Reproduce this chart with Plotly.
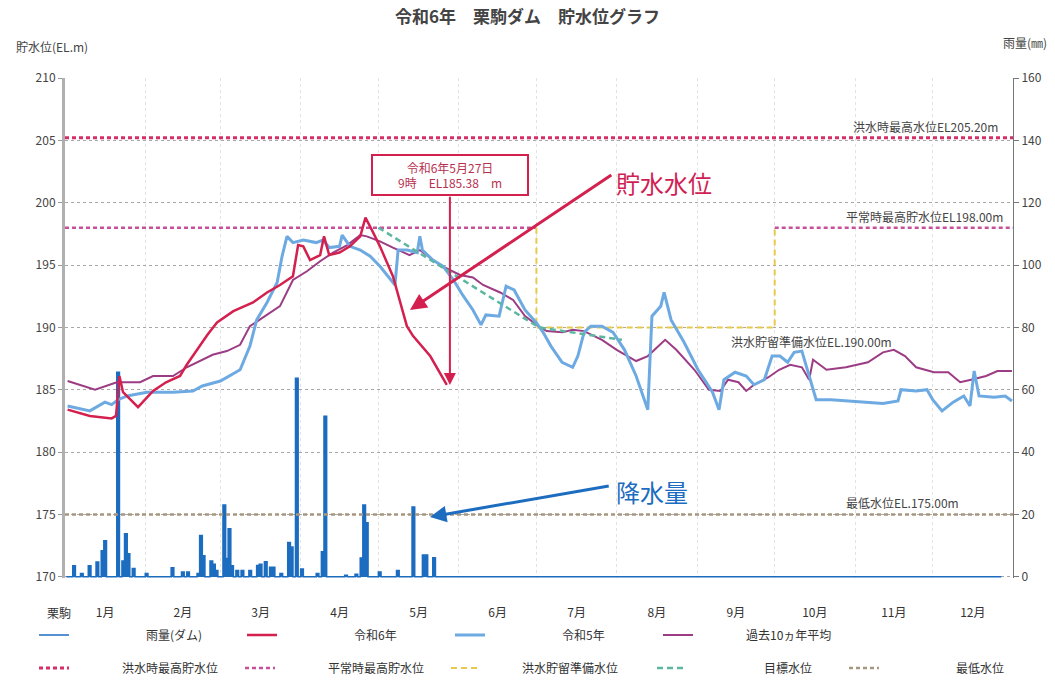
import plotly.graph_objects as go

# ---------------- data ----------------
months = ["1月", "2月", "3月", "4月", "5月", "6月", "7月", "8月", "9月", "10月", "11月", "12月"]
month_start = [0, 31, 60, 91, 121, 152, 182, 213, 244, 274, 305, 335, 366]  # 2024 (leap year), days since Jan 1

# 令和6年 storage level (day since Jan 1, EL.m)
r6_day = [1, 9.6, 18, 19.7, 21, 22.4, 28.2, 34, 39, 44.4, 47, 51, 55, 58.7, 65, 72.6, 78, 83, 88, 90, 92,
          94.6, 98.5, 100, 102, 106, 110, 114, 116, 118.5, 121.6, 126.6, 132, 134.4, 141, 147.4]
r6_el = [183.4, 182.9, 182.7, 182.9, 186.1, 184.8, 183.6, 184.9, 185.6, 186.1, 187.0, 188.2, 189.4, 190.4,
         191.3, 192.0, 192.8, 193.4, 194.1, 196.6, 196.5, 195.4, 195.8, 197.3, 195.8, 196.0, 196.5, 197.3,
         198.8, 197.8, 196.5, 194.1, 190.1, 189.3, 187.7, 185.38]

# 令和5年 storage level
r5_day = [1, 9.6, 15.4, 18, 20.5, 24, 31.6, 41.7, 49.4, 53, 60, 67.6, 71.4, 74, 78, 81.9, 83.8, 85.7, 88, 92,
          97, 99.6, 102, 106, 107, 110, 114, 117.8, 121.6, 127.4, 128.6, 132, 136, 137, 138, 142, 146, 150,
          153.5, 157.5, 160.6, 162.5, 167.6, 170.3, 173.4, 177.6, 181.9, 184.6, 187.6, 191.9, 196, 198, 200.4,
          203, 207.3, 211.6, 216, 220.5, 225, 226.6, 230, 231.3, 234, 239, 244.4, 250, 252.5, 254.4, 258.7,
          263, 266, 270, 273, 276, 279, 281.5, 284.5, 287.3, 290, 295.8, 304, 315.8, 321.6, 322.8, 328.6,
          332.8, 335, 338.6, 342.9, 347, 349.4, 351, 352.9, 358.7, 363, 365.6]
r5_el = [183.7, 183.3, 184.0, 183.8, 184.2, 184.5, 184.8, 184.8, 184.9, 185.3, 185.7, 186.6, 188.5, 190.6,
         192.0, 193.6, 195.7, 197.3, 196.8, 197.0, 196.8, 197.0, 196.4, 196.5, 197.4, 196.5, 196.2, 195.7,
         194.9, 193.4, 196.2, 196.2, 196.0, 197.3, 196.2, 195.4, 194.9, 193.8, 192.6, 191.4, 190.2, 191.0,
         190.9, 193.3, 193.0, 191.4, 190.4, 189.6, 188.5, 187.2, 186.8, 187.7, 189.6, 190.1, 190.1, 189.6,
         188.2, 186.1, 183.4, 190.9, 191.7, 192.8, 190.6, 188.8, 186.6, 184.8, 183.4, 185.8, 186.4, 186.1,
         185.4, 185.8, 187.7, 187.7, 187.2, 188.0, 188.1, 186.1, 184.2, 184.2, 184.1, 183.9, 184.1, 185.0,
         184.9, 185.0, 184.2, 183.3, 184.0, 184.5, 183.7, 186.5, 184.5, 184.4, 184.5, 184.1]

# 過去10ヵ年平均
avg_day = [1, 11.6, 20, 29, 34, 41.7, 47, 57, 62.5, 67.6, 71.4, 78, 83, 88, 93.4, 98.5, 103.5, 109, 114, 116.5,
           121.6, 126.6, 133, 137, 144.8, 152.5, 157.5, 161.4, 168, 173, 177.6, 183.4, 186, 192, 196, 200.4,
           207.3, 213, 220.5, 225, 231.7, 236, 243, 248.6, 253, 256, 260, 263, 266, 271.6, 275.7, 280, 284.5,
           287.3, 288.8, 294, 301.5, 310, 315.8, 320, 324.3, 328.6, 335.5, 341, 345.6, 349.8, 355.6, 360, 365.6]
avg_el = [185.7, 185.0, 185.6, 185.6, 186.1, 186.1, 186.8, 187.8, 188.1, 188.6, 190.1, 191.0, 191.7, 193.8,
          194.5, 195.3, 196.0, 196.6, 197.4, 197.3, 196.9, 196.4, 195.8, 196.2, 195.0, 194.2, 194.0, 193.4,
          192.8, 192.2, 190.9, 190.0, 189.7, 189.6, 189.8, 189.7, 189.0, 188.2, 187.3, 187.7, 189.0, 188.2,
          186.6, 185.0, 184.9, 185.8, 185.6, 184.9, 185.4, 186.0, 186.6, 187.0, 186.8, 185.8, 187.4, 186.6,
          186.8, 187.2, 188.0, 188.2, 187.7, 186.8, 186.4, 186.4, 185.6, 185.8, 186.1, 186.5, 186.5]

# reference levels
flood_max_day = [0, 366]
flood_max_el = [205.2, 205.2]
normal_max_day = [0, 182, None, 274, 366]
normal_max_el = [198.0, 198.0, None, 198.0, 198.0]
flood_prep_day = [182, 182, 274, 274]
flood_prep_el = [198.0, 190.0, 190.0, 198.0]
target_day = [121, 183, 215]
target_el = [198.0, 190.0, 189.0]
min_day = [0, 366]
min_el = [175.0, 175.0]

# daily rainfall (dam), mm; days not listed are 0 up to rain_last_day
rain_day = [3, 6, 9, 12, 14, 15, 20, 22, 23, 24, 26, 31, 41, 45, 47, 51, 52, 53, 56, 57, 58, 61, 62, 63, 64,
            66, 68, 71, 74, 75, 77, 79, 80, 83, 86, 87, 89, 91, 97, 99, 100, 108, 112, 114, 115, 116, 121, 128,
            134, 138, 139, 142]
rain_mm = [3.5, 1.0, 3.5, 4.7, 8.3, 11.5, 65.6, 5.0, 13.8, 7.4, 2.6, 1.0, 2.9, 1.5, 1.5, 1.0, 13.2, 6.7, 5.0,
           4.0, 2.0, 23.0, 5.8, 15.4, 3.5, 2.0, 2.0, 2.0, 3.6, 4.0, 4.8, 3.0, 3.0, 1.0, 11.0, 9.5, 63.7, 2.5,
           1.0, 8.0, 51.5, 0.5, 0.8, 6.0, 23.0, 17.3, 1.5, 2.0, 22.4, 7.0, 7.0, 6.1]
rain_last_day = 361

latest_label = "令和6年5月27日<br>9時　EL185.38　m"

# ---------------- build ----------------
rain_daily = [0.0] * (rain_last_day + 1)
for d, v in zip(rain_day, rain_mm):
    rain_daily[d] = v
rain_x = [d + 0.5 for d in range(rain_last_day + 1)]
month_mid = [(month_start[i] + month_start[i + 1]) / 2 for i in range(12)]

FONT = "Noto Sans CJK JP"
C_RAIN = "#1c6cc0"
C_R6 = "#d3204e"
C_R5 = "#6eaae2"
C_AVG = "#9c3c84"
SP = "\u3000"  # ideographic space used to place legend labels like the original


def lg(name, n):
    return SP * n + name


fig = go.Figure()

# rainfall: filled daily bars plus a step outline (which also gives the line legend symbol)
fig.add_trace(go.Bar(x=rain_x, y=rain_daily, width=1.0, yaxis="y", marker=dict(color=C_RAIN, line_width=0),
                     showlegend=False, hoverinfo="skip"))
fig.add_trace(go.Scatter(
    x=rain_x, y=rain_daily, name=lg("雨量(ダム)", 6), yaxis="y", mode="lines",
    line=dict(color=C_RAIN, width=1.6, shape="hvh"),
    legend="legend", legendrank=1))

fig.add_trace(go.Scatter(x=min_day, y=min_el, yaxis="y2", mode="lines", name=lg("最低水位", 6),
                         line=dict(color="#a8977f", width=2.5, dash="4px,3px"),
                         legend="legend3", legendrank=5))
fig.add_trace(go.Scatter(x=flood_max_day, y=flood_max_el, yaxis="y2", mode="lines",
                         name=lg("洪水時最高貯水位", 4),
                         line=dict(color="#d62f66", width=3, dash="4px,3px"),
                         legend="legend2", legendrank=1))
fig.add_trace(go.Scatter(x=normal_max_day, y=normal_max_el, yaxis="y2", mode="lines",
                         name=lg("平常時最高貯水位", 4),
                         line=dict(color="#c8509a", width=2.5, dash="4px,3px"), connectgaps=False,
                         legend="legend2", legendrank=2))
fig.add_trace(go.Scatter(x=flood_prep_day, y=flood_prep_el, yaxis="y2", mode="lines",
                         name=lg("洪水貯留準備水位", 3),
                         line=dict(color="#e7c94c", width=2, dash="6px,4px"),
                         legend="legend2", legendrank=3))
fig.add_trace(go.Scatter(x=avg_day, y=avg_el, yaxis="y2", mode="lines", name=lg("過去10ヵ年平均", 4),
                         line=dict(color=C_AVG, width=2), legend="legend", legendrank=4))
fig.add_trace(go.Scatter(x=r5_day, y=r5_el, yaxis="y2", mode="lines", name=lg("令和5年", 6),
                         line=dict(color=C_R5, width=3), legend="legend", legendrank=3))
fig.add_trace(go.Scatter(x=target_day, y=target_el, yaxis="y2", mode="lines", name=lg("目標水位", 6),
                         line=dict(color="#5cb6a0", width=2.5, dash="6px,4px"),
                         legend="legend2", legendrank=4))
fig.add_trace(go.Scatter(x=r6_day, y=r6_el, yaxis="y2", mode="lines", name=lg("令和6年", 6),
                         line=dict(color=C_R6, width=2.5), legend="legend", legendrank=2))

fig_w, fig_h = 1055, 681
ml, mr, mt, mb = 65, 42, 78, 103
pw, ph = fig_w - ml - mr, fig_h - mt - mb


def px(xp):
    return (xp - ml) / pw


def py(yp):
    return (fig_h - mb - yp) / ph


ann = []
lab_font = dict(family=FONT, size=12, color="#444")
ann.append(dict(x=361, y=205.2, xref="x", yref="y2", text="洪水時最高水位EL205.20m", showarrow=False,
                xanchor="right", yanchor="bottom", yshift=1, font=lab_font))
ann.append(dict(x=363, y=198.0, xref="x", yref="y2", text="平常時最高貯水位EL198.00m", showarrow=False,
                xanchor="right", yanchor="bottom", yshift=1, font=lab_font))
ann.append(dict(x=320, y=190.0, xref="x", yref="y2", text="洪水貯留準備水位EL.190.00m", showarrow=False,
                xanchor="right", yanchor="top", yshift=-4, font=lab_font))
ann.append(dict(x=346, y=175.0, xref="x", yref="y2", text="最低水位EL.175.00m", showarrow=False,
                xanchor="right", yanchor="bottom", yshift=1, font=lab_font))

# callout for latest value
ann.append(dict(x=148.6, y=202.2, xref="x", yref="y2", text=latest_label, showarrow=False,
                font=dict(family=FONT, size=12, color="#b8304f"), bordercolor=C_R6, borderwidth=2,
                borderpad=2, bgcolor="white", align="center", width=150, height=34))
ann.append(dict(x=r6_day[-1] + 1.2, y=r6_el[-1], xref="x", yref="y2", ax=r6_day[-1] + 1.2, ay=200.6,
                axref="x", ayref="y2", text="", showarrow=True, arrowhead=2, arrowsize=1.2,
                arrowwidth=2, arrowcolor=C_R6, standoff=0))

# big labels with arrows
ann.append(dict(x=133.2, y=191.4, xref="x", yref="y2", ax=211.5, ay=202.3, axref="x", ayref="y2",
                text="", showarrow=True, arrowhead=2, arrowsize=1.1, arrowwidth=3, arrowcolor=C_R6))
ann.append(dict(x=212, y=201.6, xref="x", yref="y2", text="貯水水位", showarrow=False, xanchor="left",
                yanchor="middle", font=dict(family=FONT, size=24, color="#d01f55")))
ann.append(dict(x=140.9, y=174.8, xref="x", yref="y2", ax=210.5, ay=177.3, axref="x", ayref="y2",
                text="", showarrow=True, arrowhead=2, arrowsize=1.1, arrowwidth=3, arrowcolor=C_RAIN))
ann.append(dict(x=212, y=176.8, xref="x", yref="y2", text="降水量", showarrow=False, xanchor="left",
                yanchor="middle", font=dict(family=FONT, size=24, color=C_RAIN)))

# axis titles and x label
ann.append(dict(x=px(52), y=py(47), xref="paper", yref="paper", text="貯水位(EL.m)", showarrow=False,
                xanchor="center", yanchor="middle", font=dict(family=FONT, size=12, color="#444")))
ann.append(dict(x=px(1025), y=py(43), xref="paper", yref="paper", text="雨量(㎜)", showarrow=False,
                xanchor="center", yanchor="middle", font=dict(family=FONT, size=12, color="#444")))
ann.append(dict(x=px(59), y=py(612), xref="paper", yref="paper", text="栗駒", showarrow=False,
                xanchor="center", yanchor="middle", font=dict(family=FONT, size=12, color="#333")))

leg_font = dict(family=FONT, size=12, color="#333")
fig.update_layout(
    width=fig_w, height=fig_h,
    margin=dict(l=ml, r=mr, t=mt, b=mb, autoexpand=False),
    paper_bgcolor="white", plot_bgcolor="white",
    font=dict(family=FONT, size=12, color="#333"),
    bargap=0, barmode="overlay",
    title=dict(text="<b>令和6年　栗駒ダム　貯水位グラフ</b>", x=0.5, xanchor="center",
               y=1 - 17 / fig_h, yanchor="middle", yref="container",
               font=dict(family=FONT, size=17, color="#444")),
    xaxis=dict(range=[0, 366], tickmode="array", tickvals=month_mid, ticktext=months, showgrid=False,
               ticks="", zeroline=False, showline=False, ticklabelstandoff=26,
               tickfont=dict(family=FONT, size=12, color="#333"),
               minor=dict(tickvals=month_start, showgrid=True, gridcolor="#e2e2e2", griddash="dot",
                          gridwidth=1, ticks="")),
    yaxis=dict(side="right", range=[-0.4, 160], tickmode="array", tickvals=list(range(0, 161, 20)),
               showgrid=True, gridcolor="#a8a8a8", griddash="dot", gridwidth=1, zeroline=False,
               showline=True, linecolor="#777", linewidth=1, ticks="outside", ticklen=5, tickcolor="#777",
               tickfont=dict(family=FONT, size=12, color="#444")),
    yaxis2=dict(overlaying="y", side="left", range=[169.9, 210], tickmode="array",
                tickvals=list(range(170, 211, 5)), showgrid=False, zeroline=False, showline=True,
                linecolor="#b0b0b0", linewidth=3, ticks="outside", ticklen=4, tickcolor="#999",
                tickfont=dict(family=FONT, size=12, color="#444")),
    legend=dict(orientation="h", x=px(34), xanchor="left", y=py(635), yanchor="middle",
                entrywidth=163, entrywidthmode="pixels", font=leg_font,
                bgcolor="rgba(0,0,0,0)", traceorder="normal"),
    legend2=dict(orientation="h", x=px(34), xanchor="left", y=py(668), yanchor="middle",
                 entrywidth=161, entrywidthmode="pixels", font=leg_font,
                 bgcolor="rgba(0,0,0,0)", traceorder="normal"),
    legend3=dict(orientation="h", x=px(844), xanchor="left", y=py(668), yanchor="middle",
                 font=leg_font, bgcolor="rgba(0,0,0,0)", traceorder="normal"),
    annotations=ann,
    showlegend=True,
)

fig.write_html("out.html", config={"displayModeBar": False},
               post_script="document.body.style.margin='0';")
